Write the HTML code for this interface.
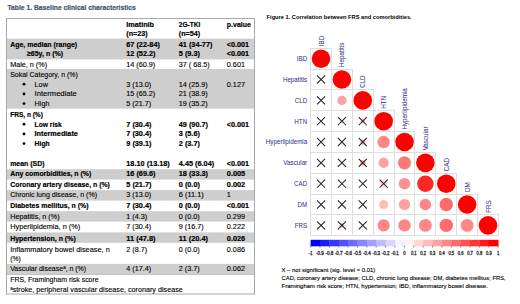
<!DOCTYPE html>
<html><head><meta charset="utf-8"><style>
html,body{margin:0;padding:0;background:#fff;width:520px;height:304px;overflow:hidden;}
svg{display:block;font-family:"Liberation Sans", sans-serif;}
.rg{stroke:#000;stroke-width:0.12px;}
.cb{stroke:#222;stroke-width:0.3px;}
.bd{stroke:#000;stroke-width:0.18px;}
.lb{stroke:#33338f;stroke-width:0.04px;}
.tt{stroke:#44546a;stroke-width:0.2px;}
</style></head><body>
<svg width="520" height="304" viewBox="0 0 520 304">
<rect x="6.50" y="38.60" width="248.00" height="20.80" fill="#cecece"/>
<rect x="6.50" y="68.90" width="248.00" height="39.80" fill="#cecece"/>
<rect x="6.50" y="169.20" width="248.00" height="10.40" fill="#cecece"/>
<rect x="6.50" y="190.10" width="248.00" height="10.50" fill="#cecece"/>
<rect x="6.50" y="211.20" width="248.00" height="10.40" fill="#cecece"/>
<rect x="6.50" y="232.40" width="248.00" height="10.40" fill="#cecece"/>
<rect x="6.50" y="263.90" width="248.00" height="10.50" fill="#cecece"/>
<rect x="6.00" y="18.00" width="249.00" height="1.00" fill="#a8a8a8"/>
<rect x="6.00" y="293.50" width="249.00" height="1.00" fill="#a8a8a8"/>
<rect x="6.00" y="18.00" width="1.00" height="276.50" fill="#a8a8a8"/>
<rect x="254.00" y="18.00" width="1.00" height="276.50" fill="#a8a8a8"/>
<rect x="6.50" y="274.00" width="248.00" height="0.80" fill="#b8b8b8"/>
<text x="7.50" y="10.00" font-size="7.4" font-weight="bold" fill="#44546a" class="tt" textLength="128.25" lengthAdjust="spacingAndGlyphs">Table 1. Baseline clinical characteristics</text>
<text x="126.30" y="27.00" font-size="7.3" font-weight="bold" fill="#000" class="bd" textLength="27.75" lengthAdjust="spacingAndGlyphs">Imatinib</text>
<text x="178.80" y="27.00" font-size="7.3" font-weight="bold" fill="#000" class="bd" textLength="21.50" lengthAdjust="spacingAndGlyphs">2G-TKI</text>
<text x="226.80" y="27.00" font-size="7.3" font-weight="bold" fill="#000" class="bd" textLength="24.06" lengthAdjust="spacingAndGlyphs">p.value</text>
<text x="126.30" y="36.40" font-size="7.3" font-weight="bold" fill="#000" class="bd" textLength="21.37" lengthAdjust="spacingAndGlyphs">(n=23)</text>
<text x="178.80" y="36.40" font-size="7.3" font-weight="bold" fill="#000" class="bd" textLength="21.37" lengthAdjust="spacingAndGlyphs">(n=54)</text>
<text x="10.20" y="47.00" font-size="7.3" font-weight="bold" fill="#000" class="bd" textLength="66.93" lengthAdjust="spacingAndGlyphs">Age, median (range)</text>
<text x="126.30" y="47.00" font-size="7.3" font-weight="bold" fill="#000" class="bd" textLength="33.57" lengthAdjust="spacingAndGlyphs">67 (22-84)</text>
<text x="178.80" y="47.00" font-size="7.3" font-weight="bold" fill="#000" class="bd" textLength="33.57" lengthAdjust="spacingAndGlyphs">41 (34-77)</text>
<text x="226.80" y="47.00" font-size="7.3" font-weight="bold" fill="#000" class="bd" textLength="22.34" lengthAdjust="spacingAndGlyphs">&lt;0.001</text>
<text x="26.90" y="56.20" font-size="7.3" font-weight="bold" fill="#000" class="bd" textLength="36.19" lengthAdjust="spacingAndGlyphs">≥65y, n (%)</text>
<text x="126.30" y="56.20" font-size="7.3" font-weight="bold" fill="#000" class="bd" textLength="29.20" lengthAdjust="spacingAndGlyphs">12 (52.2)</text>
<text x="178.80" y="56.20" font-size="7.3" font-weight="bold" fill="#000" class="bd" textLength="21.09" lengthAdjust="spacingAndGlyphs">5 (9.3)</text>
<text x="226.80" y="56.20" font-size="7.3" font-weight="bold" fill="#000" class="bd" textLength="22.34" lengthAdjust="spacingAndGlyphs">&lt;0.001</text>
<text x="10.20" y="66.80" font-size="7.3" fill="#000" class="rg" textLength="36.88" lengthAdjust="spacingAndGlyphs">Male, n (%)</text>
<text x="126.30" y="66.80" font-size="7.3" fill="#000" class="rg" textLength="28.95" lengthAdjust="spacingAndGlyphs">14 (60.9)</text>
<text x="178.80" y="66.80" font-size="7.3" fill="#000" class="rg" textLength="30.76" lengthAdjust="spacingAndGlyphs">37 ( 68.5)</text>
<text x="226.80" y="66.80" font-size="7.3" fill="#000" class="rg" textLength="18.24" lengthAdjust="spacingAndGlyphs">0.601</text>
<text x="10.20" y="76.90" font-size="7.3" fill="#000" class="rg" textLength="67.67" lengthAdjust="spacingAndGlyphs">Sokal Category, n (%)</text>
<circle cx="24.00" cy="84.20" r="1.4" fill="#000"/>
<text x="34.60" y="86.60" font-size="7.3" fill="#000" class="rg" textLength="13.27" lengthAdjust="spacingAndGlyphs">Low</text>
<text x="126.30" y="86.60" font-size="7.3" fill="#000" class="rg" textLength="24.90" lengthAdjust="spacingAndGlyphs">3 (13.0)</text>
<text x="178.80" y="86.60" font-size="7.3" fill="#000" class="rg" textLength="28.95" lengthAdjust="spacingAndGlyphs">14 (25.9)</text>
<text x="226.80" y="86.60" font-size="7.3" fill="#000" class="rg" textLength="18.24" lengthAdjust="spacingAndGlyphs">0.127</text>
<circle cx="24.00" cy="94.00" r="1.4" fill="#000"/>
<text x="34.60" y="96.40" font-size="7.3" fill="#000" class="rg" textLength="42.25" lengthAdjust="spacingAndGlyphs">Intermediate</text>
<text x="126.30" y="96.40" font-size="7.3" fill="#000" class="rg" textLength="28.95" lengthAdjust="spacingAndGlyphs">15 (65.2)</text>
<text x="178.80" y="96.40" font-size="7.3" fill="#000" class="rg" textLength="28.95" lengthAdjust="spacingAndGlyphs">21 (38.9)</text>
<circle cx="24.00" cy="103.60" r="1.4" fill="#000"/>
<text x="34.60" y="106.00" font-size="7.3" fill="#000" class="rg" textLength="14.79" lengthAdjust="spacingAndGlyphs">High</text>
<text x="126.30" y="106.00" font-size="7.3" fill="#000" class="rg" textLength="24.90" lengthAdjust="spacingAndGlyphs">5 (21.7)</text>
<text x="178.80" y="106.00" font-size="7.3" fill="#000" class="rg" textLength="28.95" lengthAdjust="spacingAndGlyphs">19 (35.2)</text>
<text x="10.20" y="116.60" font-size="7.3" font-weight="bold" fill="#000" class="bd" textLength="32.67" lengthAdjust="spacingAndGlyphs">FRS, n (%)</text>
<circle cx="24.00" cy="124.20" r="1.4" fill="#000"/>
<text x="34.60" y="126.60" font-size="7.3" font-weight="bold" fill="#000" class="bd" textLength="27.15" lengthAdjust="spacingAndGlyphs">Low risk</text>
<text x="126.30" y="126.60" font-size="7.3" font-weight="bold" fill="#000" class="bd" textLength="25.15" lengthAdjust="spacingAndGlyphs">7 (30.4)</text>
<text x="178.80" y="126.60" font-size="7.3" font-weight="bold" fill="#000" class="bd" textLength="29.20" lengthAdjust="spacingAndGlyphs">49 (90.7)</text>
<text x="226.80" y="126.60" font-size="7.3" font-weight="bold" fill="#000" class="bd" textLength="22.34" lengthAdjust="spacingAndGlyphs">&lt;0.001</text>
<circle cx="24.00" cy="133.90" r="1.4" fill="#000"/>
<text x="34.60" y="136.30" font-size="7.3" font-weight="bold" fill="#000" class="bd" textLength="43.27" lengthAdjust="spacingAndGlyphs">Intermediate</text>
<text x="126.30" y="136.30" font-size="7.3" font-weight="bold" fill="#000" class="bd" textLength="25.15" lengthAdjust="spacingAndGlyphs">7 (30.4)</text>
<text x="178.80" y="136.30" font-size="7.3" font-weight="bold" fill="#000" class="bd" textLength="21.09" lengthAdjust="spacingAndGlyphs">3 (5.6)</text>
<circle cx="24.00" cy="143.60" r="1.4" fill="#000"/>
<text x="34.60" y="146.00" font-size="7.3" font-weight="bold" fill="#000" class="bd" textLength="15.10" lengthAdjust="spacingAndGlyphs">High</text>
<text x="126.30" y="146.00" font-size="7.3" font-weight="bold" fill="#000" class="bd" textLength="25.15" lengthAdjust="spacingAndGlyphs">9 (39.1)</text>
<text x="178.80" y="146.00" font-size="7.3" font-weight="bold" fill="#000" class="bd" textLength="21.09" lengthAdjust="spacingAndGlyphs">2 (3.7)</text>
<text x="10.20" y="165.80" font-size="7.3" font-weight="bold" fill="#000" class="bd" textLength="34.40" lengthAdjust="spacingAndGlyphs">mean (SD)</text>
<text x="126.30" y="165.80" font-size="7.3" font-weight="bold" fill="#000" class="bd" textLength="43.51" lengthAdjust="spacingAndGlyphs">18.10 (13.18)</text>
<text x="178.80" y="165.80" font-size="7.3" font-weight="bold" fill="#000" class="bd" textLength="35.40" lengthAdjust="spacingAndGlyphs">4.45 (6.04)</text>
<text x="226.80" y="165.80" font-size="7.3" font-weight="bold" fill="#000" class="bd" textLength="22.34" lengthAdjust="spacingAndGlyphs">&lt;0.001</text>
<text x="10.20" y="176.30" font-size="7.3" font-weight="bold" fill="#000" class="bd" textLength="81.06" lengthAdjust="spacingAndGlyphs">Any comorbidities, n (%)</text>
<text x="126.30" y="176.30" font-size="7.3" font-weight="bold" fill="#000" class="bd" textLength="29.20" lengthAdjust="spacingAndGlyphs">16 (69.6)</text>
<text x="178.80" y="176.30" font-size="7.3" font-weight="bold" fill="#000" class="bd" textLength="29.20" lengthAdjust="spacingAndGlyphs">18 (33.3)</text>
<text x="226.80" y="176.30" font-size="7.3" font-weight="bold" fill="#000" class="bd" textLength="18.36" lengthAdjust="spacingAndGlyphs">0.005</text>
<text x="10.20" y="186.80" font-size="7.3" font-weight="bold" fill="#000" class="bd" textLength="99.71" lengthAdjust="spacingAndGlyphs">Coronary artery disease, n (%)</text>
<text x="126.30" y="186.80" font-size="7.3" font-weight="bold" fill="#000" class="bd" textLength="25.15" lengthAdjust="spacingAndGlyphs">5 (21.7)</text>
<text x="178.80" y="186.80" font-size="7.3" font-weight="bold" fill="#000" class="bd" textLength="21.09" lengthAdjust="spacingAndGlyphs">0 (0.0)</text>
<text x="226.80" y="186.80" font-size="7.3" font-weight="bold" fill="#000" class="bd" textLength="18.36" lengthAdjust="spacingAndGlyphs">0.002</text>
<text x="10.20" y="197.20" font-size="7.3" fill="#000" class="rg" textLength="86.87" lengthAdjust="spacingAndGlyphs">Chronic lung disease, n (%)</text>
<text x="126.30" y="197.20" font-size="7.3" fill="#000" class="rg" textLength="24.90" lengthAdjust="spacingAndGlyphs">3 (13.0)</text>
<text x="178.80" y="197.20" font-size="7.3" fill="#000" class="rg" textLength="24.90" lengthAdjust="spacingAndGlyphs">6 (11.1)</text>
<text x="226.80" y="197.20" font-size="7.3" fill="#000" class="rg" textLength="4.05" lengthAdjust="spacingAndGlyphs">1</text>
<text x="10.20" y="207.90" font-size="7.3" font-weight="bold" fill="#000" class="bd" textLength="78.40" lengthAdjust="spacingAndGlyphs">Diabetes mellitus, n (%)</text>
<text x="126.30" y="207.90" font-size="7.3" font-weight="bold" fill="#000" class="bd" textLength="25.15" lengthAdjust="spacingAndGlyphs">7 (30.4)</text>
<text x="178.80" y="207.90" font-size="7.3" font-weight="bold" fill="#000" class="bd" textLength="21.09" lengthAdjust="spacingAndGlyphs">0 (0.0)</text>
<text x="226.80" y="207.90" font-size="7.3" font-weight="bold" fill="#000" class="bd" textLength="22.34" lengthAdjust="spacingAndGlyphs">&lt;0.001</text>
<text x="10.20" y="218.50" font-size="7.3" fill="#000" class="rg" textLength="49.36" lengthAdjust="spacingAndGlyphs">Hepatitis, n (%)</text>
<text x="126.30" y="218.50" font-size="7.3" fill="#000" class="rg" textLength="20.84" lengthAdjust="spacingAndGlyphs">1 (4.3)</text>
<text x="178.80" y="218.50" font-size="7.3" fill="#000" class="rg" textLength="20.84" lengthAdjust="spacingAndGlyphs">0 (0.0)</text>
<text x="226.80" y="218.50" font-size="7.3" fill="#000" class="rg" textLength="18.24" lengthAdjust="spacingAndGlyphs">0.299</text>
<text x="10.20" y="229.00" font-size="7.3" fill="#000" class="rg" textLength="69.92" lengthAdjust="spacingAndGlyphs">Hyperlipidemia, n (%)</text>
<text x="126.30" y="229.00" font-size="7.3" fill="#000" class="rg" textLength="24.90" lengthAdjust="spacingAndGlyphs">7 (30.4)</text>
<text x="178.80" y="229.00" font-size="7.3" fill="#000" class="rg" textLength="24.90" lengthAdjust="spacingAndGlyphs">9 (16.7)</text>
<text x="226.80" y="229.00" font-size="7.3" fill="#000" class="rg" textLength="18.24" lengthAdjust="spacingAndGlyphs">0.222</text>
<text x="10.20" y="240.60" font-size="7.3" font-weight="bold" fill="#000" class="bd" textLength="65.54" lengthAdjust="spacingAndGlyphs">Hypertension, n (%)</text>
<text x="126.30" y="240.60" font-size="7.3" font-weight="bold" fill="#000" class="bd" textLength="29.20" lengthAdjust="spacingAndGlyphs">11 (47.8)</text>
<text x="178.80" y="240.60" font-size="7.3" font-weight="bold" fill="#000" class="bd" textLength="29.20" lengthAdjust="spacingAndGlyphs">11 (20.4)</text>
<text x="226.80" y="240.60" font-size="7.3" font-weight="bold" fill="#000" class="bd" textLength="18.36" lengthAdjust="spacingAndGlyphs">0.026</text>
<text x="10.20" y="251.60" font-size="7.3" fill="#000" class="rg" textLength="99.62" lengthAdjust="spacingAndGlyphs">Inflammatory bowel disease, n</text>
<text x="126.30" y="251.60" font-size="7.3" fill="#000" class="rg" textLength="20.84" lengthAdjust="spacingAndGlyphs">2 (8.7)</text>
<text x="178.80" y="251.60" font-size="7.3" fill="#000" class="rg" textLength="20.84" lengthAdjust="spacingAndGlyphs">0 (0.0)</text>
<text x="226.80" y="251.60" font-size="7.3" fill="#000" class="rg" textLength="18.24" lengthAdjust="spacingAndGlyphs">0.086</text>
<text x="10.20" y="260.50" font-size="7.3" fill="#000" class="rg" textLength="10.57" lengthAdjust="spacingAndGlyphs">(%)</text>
<text x="10.20" y="271.30" font-size="7.3" fill="#000" class="rg" textLength="53.00" lengthAdjust="spacingAndGlyphs">Vascular disease</text>
<text x="63.20" y="268.70" font-size="4.53" class="rg" textLength="2.49" lengthAdjust="spacingAndGlyphs">a</text>
<text x="65.69" y="271.30" font-size="7.3" class="rg" textLength="20.39" lengthAdjust="spacingAndGlyphs">, n (%)</text>
<text x="126.30" y="271.30" font-size="7.3" fill="#000" class="rg" textLength="24.90" lengthAdjust="spacingAndGlyphs">4 (17.4)</text>
<text x="178.80" y="271.30" font-size="7.3" fill="#000" class="rg" textLength="20.84" lengthAdjust="spacingAndGlyphs">2 (3.7)</text>
<text x="226.80" y="271.30" font-size="7.3" fill="#000" class="rg" textLength="18.24" lengthAdjust="spacingAndGlyphs">0.062</text>
<text x="10.20" y="281.50" font-size="7.3" fill="#000" class="rg" textLength="88.48" lengthAdjust="spacingAndGlyphs">FRS, Framingham risk score</text>
<text x="10.20" y="289.80" font-size="4.53" class="rg" textLength="2.49" lengthAdjust="spacingAndGlyphs">a</text>
<text x="12.69" y="292.40" font-size="7.3" fill="#000" class="rg" textLength="170.06" lengthAdjust="spacingAndGlyphs">stroke, peripheral vascular disease, coronary disease</text>
<text x="266.60" y="18.50" font-size="6.1" font-weight="bold" fill="#000" textLength="145.04" lengthAdjust="spacingAndGlyphs">Figure 1. Correlation between FRS and comorbidities.</text>
<g fill="none" stroke="#dedede" stroke-width="1" shape-rendering="crispEdges"><rect x="310.60" y="48.30" width="20.87" height="20.83"/><rect x="310.60" y="69.13" width="20.87" height="20.83"/><rect x="331.47" y="69.13" width="20.87" height="20.83"/><rect x="310.60" y="89.96" width="20.87" height="20.83"/><rect x="331.47" y="89.96" width="20.87" height="20.83"/><rect x="352.34" y="89.96" width="20.87" height="20.83"/><rect x="310.60" y="110.79" width="20.87" height="20.83"/><rect x="331.47" y="110.79" width="20.87" height="20.83"/><rect x="352.34" y="110.79" width="20.87" height="20.83"/><rect x="373.21" y="110.79" width="20.87" height="20.83"/><rect x="310.60" y="131.62" width="20.87" height="20.83"/><rect x="331.47" y="131.62" width="20.87" height="20.83"/><rect x="352.34" y="131.62" width="20.87" height="20.83"/><rect x="373.21" y="131.62" width="20.87" height="20.83"/><rect x="394.08" y="131.62" width="20.87" height="20.83"/><rect x="310.60" y="152.45" width="20.87" height="20.83"/><rect x="331.47" y="152.45" width="20.87" height="20.83"/><rect x="352.34" y="152.45" width="20.87" height="20.83"/><rect x="373.21" y="152.45" width="20.87" height="20.83"/><rect x="394.08" y="152.45" width="20.87" height="20.83"/><rect x="414.95" y="152.45" width="20.87" height="20.83"/><rect x="310.60" y="173.28" width="20.87" height="20.83"/><rect x="331.47" y="173.28" width="20.87" height="20.83"/><rect x="352.34" y="173.28" width="20.87" height="20.83"/><rect x="373.21" y="173.28" width="20.87" height="20.83"/><rect x="394.08" y="173.28" width="20.87" height="20.83"/><rect x="414.95" y="173.28" width="20.87" height="20.83"/><rect x="435.82" y="173.28" width="20.87" height="20.83"/><rect x="310.60" y="194.11" width="20.87" height="20.83"/><rect x="331.47" y="194.11" width="20.87" height="20.83"/><rect x="352.34" y="194.11" width="20.87" height="20.83"/><rect x="373.21" y="194.11" width="20.87" height="20.83"/><rect x="394.08" y="194.11" width="20.87" height="20.83"/><rect x="414.95" y="194.11" width="20.87" height="20.83"/><rect x="435.82" y="194.11" width="20.87" height="20.83"/><rect x="456.69" y="194.11" width="20.87" height="20.83"/><rect x="310.60" y="214.94" width="20.87" height="20.83"/><rect x="331.47" y="214.94" width="20.87" height="20.83"/><rect x="352.34" y="214.94" width="20.87" height="20.83"/><rect x="373.21" y="214.94" width="20.87" height="20.83"/><rect x="394.08" y="214.94" width="20.87" height="20.83"/><rect x="414.95" y="214.94" width="20.87" height="20.83"/><rect x="435.82" y="214.94" width="20.87" height="20.83"/><rect x="456.69" y="214.94" width="20.87" height="20.83"/><rect x="477.56" y="214.94" width="20.87" height="20.83"/></g>
<circle cx="341.91" cy="100.38" r="4.60" fill="#ffa1a1"/>
<circle cx="341.91" cy="121.20" r="1.80" fill="#ffcaca"/>
<circle cx="362.78" cy="121.20" r="2.40" fill="#ffbcbc"/>
<circle cx="362.78" cy="142.03" r="2.60" fill="#ffaeae"/>
<circle cx="383.65" cy="142.03" r="6.20" fill="#ff8686"/>
<circle cx="362.78" cy="162.87" r="2.80" fill="#ffaeae"/>
<circle cx="383.65" cy="162.87" r="5.10" fill="#ffa1a1"/>
<circle cx="404.52" cy="162.87" r="6.60" fill="#ff7878"/>
<circle cx="383.65" cy="183.69" r="3.80" fill="#ffd7d7"/>
<circle cx="404.52" cy="183.69" r="5.80" fill="#ff9191"/>
<circle cx="425.39" cy="183.69" r="8.20" fill="#ff2626"/>
<circle cx="383.65" cy="204.52" r="4.50" fill="#ffbcbc"/>
<circle cx="404.52" cy="204.52" r="5.60" fill="#ffa1a1"/>
<circle cx="425.39" cy="204.52" r="5.80" fill="#ff8686"/>
<circle cx="446.25" cy="204.52" r="6.70" fill="#ff6b6b"/>
<circle cx="341.91" cy="225.35" r="2.40" fill="#ffbcbc"/>
<circle cx="383.65" cy="225.35" r="6.05" fill="#ff8686"/>
<circle cx="404.52" cy="225.35" r="6.20" fill="#ff8686"/>
<circle cx="425.39" cy="225.35" r="6.40" fill="#ff8686"/>
<circle cx="446.25" cy="225.35" r="6.70" fill="#ff6b6b"/>
<circle cx="467.12" cy="225.35" r="6.40" fill="#ff8686"/>
<circle cx="321.04" cy="58.71" r="9.30" fill="#ff0000"/>
<circle cx="341.91" cy="79.54" r="9.30" fill="#ff0000"/>
<circle cx="362.78" cy="100.38" r="9.30" fill="#ff0000"/>
<circle cx="383.65" cy="121.20" r="9.30" fill="#ff0000"/>
<circle cx="404.52" cy="142.03" r="9.30" fill="#ff0000"/>
<circle cx="425.39" cy="162.87" r="9.30" fill="#ff0000"/>
<circle cx="446.25" cy="183.69" r="9.30" fill="#ff0000"/>
<circle cx="467.12" cy="204.52" r="9.30" fill="#ff0000"/>
<circle cx="488.00" cy="225.35" r="9.30" fill="#ff0000"/>
<path d="M316.99 75.49L325.09 83.59M316.99 83.59L325.09 75.49M316.99 96.33L325.09 104.42M316.99 104.42L325.09 96.33M316.99 117.16L325.09 125.25M316.99 125.25L325.09 117.16M337.86 117.16L345.96 125.25M337.86 125.25L345.96 117.16M358.73 117.16L366.83 125.25M358.73 125.25L366.83 117.16M316.99 137.98L325.09 146.08M316.99 146.08L325.09 137.98M337.86 137.98L345.96 146.08M337.86 146.08L345.96 137.98M358.73 137.98L366.83 146.08M358.73 146.08L366.83 137.98M316.99 158.81L325.09 166.92M316.99 166.92L325.09 158.81M337.86 158.81L345.96 166.92M337.86 166.92L345.96 158.81M358.73 158.81L366.83 166.92M358.73 166.92L366.83 158.81M316.99 179.64L325.09 187.75M316.99 187.75L325.09 179.64M337.86 179.64L345.96 187.75M337.86 187.75L345.96 179.64M358.73 179.64L366.83 187.75M358.73 187.75L366.83 179.64M379.60 179.64L387.70 187.75M379.60 187.75L387.70 179.64M316.99 200.47L325.09 208.57M316.99 208.57L325.09 200.47M337.86 200.47L345.96 208.57M337.86 208.57L345.96 200.47M358.73 200.47L366.83 208.57M358.73 208.57L366.83 200.47M316.99 221.30L325.09 229.40M316.99 229.40L325.09 221.30M337.86 221.30L345.96 229.40M337.86 229.40L345.96 221.30M358.73 221.30L366.83 229.40M358.73 229.40L366.83 221.30" stroke="#222" stroke-width="1.05" fill="none"/>
<text x="296.78" y="61.11" font-size="7.0" fill="#33338f" class="lb" textLength="10.42" lengthAdjust="spacingAndGlyphs">IBD</text>
<text transform="translate(323.54 46.20) rotate(-90)" font-size="7.0" fill="#33338f" class="lb" textLength="10.42" lengthAdjust="spacingAndGlyphs">IBD</text>
<text x="282.88" y="81.94" font-size="7.0" fill="#33338f" class="lb" textLength="24.32" lengthAdjust="spacingAndGlyphs">Hepatitis</text>
<text transform="translate(344.41 67.03) rotate(-90)" font-size="7.0" fill="#33338f" class="lb" textLength="24.32" lengthAdjust="spacingAndGlyphs">Hepatitis</text>
<text x="294.70" y="102.78" font-size="7.0" fill="#33338f" class="lb" textLength="12.50" lengthAdjust="spacingAndGlyphs">CLD</text>
<text transform="translate(365.28 87.86) rotate(-90)" font-size="7.0" fill="#33338f" class="lb" textLength="12.50" lengthAdjust="spacingAndGlyphs">CLD</text>
<text x="294.35" y="123.61" font-size="7.0" fill="#33338f" class="lb" textLength="12.85" lengthAdjust="spacingAndGlyphs">HTN</text>
<text transform="translate(386.15 108.69) rotate(-90)" font-size="7.0" fill="#33338f" class="lb" textLength="12.85" lengthAdjust="spacingAndGlyphs">HTN</text>
<text x="265.86" y="144.43" font-size="7.0" fill="#33338f" class="lb" textLength="41.34" lengthAdjust="spacingAndGlyphs">Hyperlipidemia</text>
<text transform="translate(407.02 129.52) rotate(-90)" font-size="7.0" fill="#33338f" class="lb" textLength="41.34" lengthAdjust="spacingAndGlyphs">Hyperlipidemia</text>
<text x="283.35" y="165.27" font-size="7.0" fill="#33338f" class="lb" textLength="23.85" lengthAdjust="spacingAndGlyphs">Vascular</text>
<text transform="translate(427.89 150.35) rotate(-90)" font-size="7.0" fill="#33338f" class="lb" textLength="23.85" lengthAdjust="spacingAndGlyphs">Vascular</text>
<text x="294.00" y="186.09" font-size="7.0" fill="#33338f" class="lb" textLength="13.20" lengthAdjust="spacingAndGlyphs">CAD</text>
<text transform="translate(448.75 171.18) rotate(-90)" font-size="7.0" fill="#33338f" class="lb" textLength="13.20" lengthAdjust="spacingAndGlyphs">CAD</text>
<text x="297.48" y="206.92" font-size="7.0" fill="#33338f" class="lb" textLength="9.72" lengthAdjust="spacingAndGlyphs">DM</text>
<text transform="translate(469.62 192.01) rotate(-90)" font-size="7.0" fill="#33338f" class="lb" textLength="9.72" lengthAdjust="spacingAndGlyphs">DM</text>
<text x="294.70" y="227.75" font-size="7.0" fill="#33338f" class="lb" textLength="12.50" lengthAdjust="spacingAndGlyphs">FRS</text>
<text transform="translate(490.50 212.84) rotate(-90)" font-size="7.0" fill="#33338f" class="lb" textLength="12.50" lengthAdjust="spacingAndGlyphs">FRS</text>
<rect x="310.60" y="239.80" width="9.68" height="6.50" fill="#0000ff"/>
<rect x="319.98" y="239.80" width="9.68" height="6.50" fill="#1b1bff"/>
<rect x="329.36" y="239.80" width="9.68" height="6.50" fill="#3636ff"/>
<rect x="338.74" y="239.80" width="9.68" height="6.50" fill="#5151ff"/>
<rect x="348.12" y="239.80" width="9.68" height="6.50" fill="#6b6bff"/>
<rect x="357.50" y="239.80" width="9.68" height="6.50" fill="#8686ff"/>
<rect x="366.88" y="239.80" width="9.68" height="6.50" fill="#a1a1ff"/>
<rect x="376.26" y="239.80" width="9.68" height="6.50" fill="#bcbcff"/>
<rect x="385.64" y="239.80" width="9.68" height="6.50" fill="#d7d7ff"/>
<rect x="395.02" y="239.80" width="9.68" height="6.50" fill="#f2f2ff"/>
<rect x="404.40" y="239.80" width="9.68" height="6.50" fill="#fff2f2"/>
<rect x="413.78" y="239.80" width="9.68" height="6.50" fill="#ffd7d7"/>
<rect x="423.16" y="239.80" width="9.68" height="6.50" fill="#ffbcbc"/>
<rect x="432.54" y="239.80" width="9.68" height="6.50" fill="#ffa1a1"/>
<rect x="441.92" y="239.80" width="9.68" height="6.50" fill="#ff8686"/>
<rect x="451.30" y="239.80" width="9.68" height="6.50" fill="#ff6b6b"/>
<rect x="460.68" y="239.80" width="9.68" height="6.50" fill="#ff5151"/>
<rect x="470.06" y="239.80" width="9.68" height="6.50" fill="#ff3636"/>
<rect x="479.44" y="239.80" width="9.68" height="6.50" fill="#ff1b1b"/>
<rect x="488.82" y="239.80" width="9.68" height="6.50" fill="#ff0000"/>
<line x1="310.60" y1="245.70000000000002" x2="310.60" y2="247.5" stroke="#555" stroke-width="0.7"/>
<text x="308.85" y="255.2" font-size="5.2" fill="#222" class="cb" textLength="3.5" lengthAdjust="spacingAndGlyphs">-1</text>
<line x1="319.98" y1="245.70000000000002" x2="319.98" y2="247.5" stroke="#555" stroke-width="0.7"/>
<text x="316.13" y="255.2" font-size="5.2" fill="#222" class="cb" textLength="7.7" lengthAdjust="spacingAndGlyphs">-0.9</text>
<line x1="329.36" y1="245.70000000000002" x2="329.36" y2="247.5" stroke="#555" stroke-width="0.7"/>
<text x="325.51" y="255.2" font-size="5.2" fill="#222" class="cb" textLength="7.7" lengthAdjust="spacingAndGlyphs">-0.8</text>
<line x1="338.74" y1="245.70000000000002" x2="338.74" y2="247.5" stroke="#555" stroke-width="0.7"/>
<text x="334.89" y="255.2" font-size="5.2" fill="#222" class="cb" textLength="7.7" lengthAdjust="spacingAndGlyphs">-0.7</text>
<line x1="348.12" y1="245.70000000000002" x2="348.12" y2="247.5" stroke="#555" stroke-width="0.7"/>
<text x="344.27" y="255.2" font-size="5.2" fill="#222" class="cb" textLength="7.7" lengthAdjust="spacingAndGlyphs">-0.6</text>
<line x1="357.50" y1="245.70000000000002" x2="357.50" y2="247.5" stroke="#555" stroke-width="0.7"/>
<text x="353.65" y="255.2" font-size="5.2" fill="#222" class="cb" textLength="7.7" lengthAdjust="spacingAndGlyphs">-0.5</text>
<line x1="366.88" y1="245.70000000000002" x2="366.88" y2="247.5" stroke="#555" stroke-width="0.7"/>
<text x="363.03" y="255.2" font-size="5.2" fill="#222" class="cb" textLength="7.7" lengthAdjust="spacingAndGlyphs">-0.4</text>
<line x1="376.26" y1="245.70000000000002" x2="376.26" y2="247.5" stroke="#555" stroke-width="0.7"/>
<text x="372.41" y="255.2" font-size="5.2" fill="#222" class="cb" textLength="7.7" lengthAdjust="spacingAndGlyphs">-0.3</text>
<line x1="385.64" y1="245.70000000000002" x2="385.64" y2="247.5" stroke="#555" stroke-width="0.7"/>
<text x="381.79" y="255.2" font-size="5.2" fill="#222" class="cb" textLength="7.7" lengthAdjust="spacingAndGlyphs">-0.2</text>
<line x1="395.02" y1="245.70000000000002" x2="395.02" y2="247.5" stroke="#555" stroke-width="0.7"/>
<text x="391.17" y="255.2" font-size="5.2" fill="#222" class="cb" textLength="7.7" lengthAdjust="spacingAndGlyphs">-0.1</text>
<line x1="404.40" y1="245.70000000000002" x2="404.40" y2="247.5" stroke="#555" stroke-width="0.7"/>
<text x="403.25" y="255.2" font-size="5.2" fill="#222" class="cb" textLength="2.3" lengthAdjust="spacingAndGlyphs">0</text>
<line x1="413.78" y1="245.70000000000002" x2="413.78" y2="247.5" stroke="#555" stroke-width="0.7"/>
<text x="410.93" y="255.2" font-size="5.2" fill="#222" class="cb" textLength="5.7" lengthAdjust="spacingAndGlyphs">0.1</text>
<line x1="423.16" y1="245.70000000000002" x2="423.16" y2="247.5" stroke="#555" stroke-width="0.7"/>
<text x="420.31" y="255.2" font-size="5.2" fill="#222" class="cb" textLength="5.7" lengthAdjust="spacingAndGlyphs">0.2</text>
<line x1="432.54" y1="245.70000000000002" x2="432.54" y2="247.5" stroke="#555" stroke-width="0.7"/>
<text x="429.69" y="255.2" font-size="5.2" fill="#222" class="cb" textLength="5.7" lengthAdjust="spacingAndGlyphs">0.3</text>
<line x1="441.92" y1="245.70000000000002" x2="441.92" y2="247.5" stroke="#555" stroke-width="0.7"/>
<text x="439.07" y="255.2" font-size="5.2" fill="#222" class="cb" textLength="5.7" lengthAdjust="spacingAndGlyphs">0.4</text>
<line x1="451.30" y1="245.70000000000002" x2="451.30" y2="247.5" stroke="#555" stroke-width="0.7"/>
<text x="448.45" y="255.2" font-size="5.2" fill="#222" class="cb" textLength="5.7" lengthAdjust="spacingAndGlyphs">0.5</text>
<line x1="460.68" y1="245.70000000000002" x2="460.68" y2="247.5" stroke="#555" stroke-width="0.7"/>
<text x="457.83" y="255.2" font-size="5.2" fill="#222" class="cb" textLength="5.7" lengthAdjust="spacingAndGlyphs">0.6</text>
<line x1="470.06" y1="245.70000000000002" x2="470.06" y2="247.5" stroke="#555" stroke-width="0.7"/>
<text x="467.21" y="255.2" font-size="5.2" fill="#222" class="cb" textLength="5.7" lengthAdjust="spacingAndGlyphs">0.7</text>
<line x1="479.44" y1="245.70000000000002" x2="479.44" y2="247.5" stroke="#555" stroke-width="0.7"/>
<text x="476.59" y="255.2" font-size="5.2" fill="#222" class="cb" textLength="5.7" lengthAdjust="spacingAndGlyphs">0.8</text>
<line x1="488.82" y1="245.70000000000002" x2="488.82" y2="247.5" stroke="#555" stroke-width="0.7"/>
<text x="485.97" y="255.2" font-size="5.2" fill="#222" class="cb" textLength="5.7" lengthAdjust="spacingAndGlyphs">0.9</text>
<line x1="498.20" y1="245.70000000000002" x2="498.20" y2="247.5" stroke="#555" stroke-width="0.7"/>
<text x="497.05" y="255.2" font-size="5.2" fill="#222" class="cb" textLength="2.3" lengthAdjust="spacingAndGlyphs">1</text>
<text x="281.50" y="272.00" font-size="6.1" fill="#000" class="rg" textLength="93.85" lengthAdjust="spacingAndGlyphs">X – not significant (sig. level = 0.01)</text>
<text x="281.50" y="280.00" font-size="6.1" fill="#000" class="rg" textLength="224.25" lengthAdjust="spacingAndGlyphs">CAD, coronary artery disease; CLD, chronic lung disease; DM, diabetes mellitus; FRS,</text>
<text x="281.50" y="288.00" font-size="6.1" fill="#000" class="rg" textLength="206.23" lengthAdjust="spacingAndGlyphs">Framingham risk score; HTN, hypertension; IBD, inflammatory bowel disease.</text>
</svg>
</body></html>
